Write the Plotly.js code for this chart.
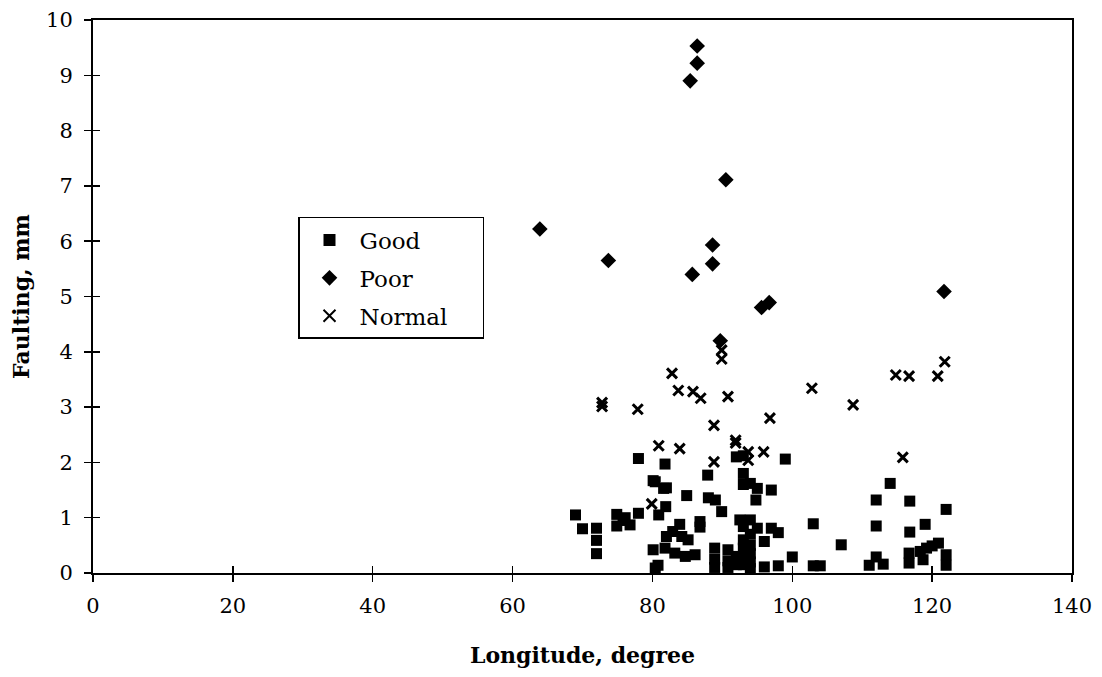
<!DOCTYPE html>
<html>
<head>
<meta charset="utf-8">
<script src="https://cdn.plot.ly/plotly-3.0.1.min.js"></script>
<style>html,body{margin:0;padding:0;background:#fff;}#chart{width:1102px;height:677px;}</style>
</head>
<body>
<div id="chart"></div>
<script>
// Good
const goodLon = [69.0,70.0,72.0,72.0,72.0,74.9,74.9,75.8,76.1,76.8,78.0,78.0,81.8,80.1,80.4,81.6,82.0,81.9,80.9,84.9,87.9,88.0,89.0,89.9,86.8,86.8,83.9,82.9,82.0,84.2,85.1,80.1,81.8,83.2,84.7,86.1,80.8,80.4,88.9,88.9,88.9,90.8,90.8,90.8,92.0,93.0,93.0,93.0,94.0,95.0,94.8,97.0,99.0,92.5,94.0,93.0,95.0,97.0,98.0,96.0,93.0,93.0,93.0,93.0,94.0,94.0,94.0,94.0,94.0,92.0,92.0,103.0,100.0,96.0,98.0,103.0,104.0,107.0,114.0,112.0,112.0,116.8,116.8,119.0,122.0,112.0,111.0,113.0,116.7,116.7,118.3,119.2,120.0,120.9,122.0,122.0,118.7];
const goodFault = [1.05,0.80,0.81,0.59,0.35,1.06,0.85,0.95,1.00,0.87,1.08,2.07,1.97,1.67,1.65,1.53,1.54,1.20,1.05,1.40,1.77,1.36,1.32,1.11,0.93,0.83,0.88,0.75,0.66,0.66,0.60,0.42,0.45,0.36,0.30,0.33,0.14,0.09,0.45,0.25,0.10,0.42,0.22,0.10,2.10,2.12,1.80,1.60,1.62,1.53,1.32,1.50,2.06,0.96,0.96,0.84,0.81,0.81,0.73,0.57,0.60,0.45,0.30,0.15,0.70,0.50,0.35,0.20,0.08,0.30,0.15,0.89,0.29,0.11,0.13,0.13,0.13,0.51,1.62,1.32,0.85,1.30,0.74,0.88,1.15,0.29,0.14,0.16,0.36,0.18,0.39,0.45,0.49,0.54,0.33,0.14,0.24];
// Poor
const poorLon = [63.9,73.7,85.4,86.4,86.4,90.5,88.6,88.6,85.7,95.6,96.7,89.7,121.7];
const poorFault = [6.22,5.65,8.90,9.22,9.53,7.11,5.93,5.59,5.40,4.80,4.89,4.20,5.09];
// Normal
const normLon = [72.8,72.8,77.9,80.9,83.9,82.8,83.7,85.8,86.9,88.8,88.8,89.9,89.9,90.8,91.9,91.9,93.7,93.7,95.9,96.8,102.8,108.7,114.8,116.7,120.8,121.8,115.8,79.9];
const normFault = [3.08,3.01,2.96,2.30,2.25,3.61,3.30,3.28,3.16,2.67,2.01,4.03,3.87,3.19,2.40,2.35,2.19,2.04,2.19,2.80,3.34,3.04,3.58,3.56,3.56,3.82,2.09,1.25];

const seriesNames = ['Good','Poor','Normal'];
const xTicks = [0,20,40,60,80,100,120,140];
const yTicks = [0,1,2,3,4,5,6,7,8,9,10];

const FONT = 'DejaVu Serif, Liberation Serif, serif';
const PAD = '\u00a0\u00a0\u00a0\u00a0'; // right padding inside the legend box

const traces = [
  {x: goodLon, y: goodFault, name: seriesNames[0], mode: 'markers', type: 'scatter', legendgroup:'g',
   marker: {symbol: 'square', size: 11, color: '#000'}},
  {x: poorLon, y: poorFault, name: seriesNames[1], mode: 'markers', type: 'scatter', legendgroup:'p',
   marker: {symbol: 'diamond', size: 12, color: '#000'}},
  {x: normLon, y: normFault, name: seriesNames[2] + PAD, mode: 'markers', type: 'scatter', legendgroup:'n',
   marker: {symbol: 'x-thin-open', size: 10, color: '#000', line: {width: 3, color: '#000'}}},
  // empty helper traces so the overlaid tick-only axes (inner half of the crossing ticks) are drawn
  {x: [null], y: [null], xaxis: 'x2', yaxis: 'y', type: 'scatter', mode: 'markers', showlegend: false, hoverinfo: 'skip'},
  {x: [null], y: [null], xaxis: 'x', yaxis: 'y2', type: 'scatter', mode: 'markers', showlegend: false, hoverinfo: 'skip'}
];

const layout = {
  width: 1102, height: 677,
  margin: {l: 93, r: 30, t: 20, b: 104},
  paper_bgcolor: '#fff', plot_bgcolor: '#fff',
  font: {family: FONT, color: '#000', size: 21},
  showlegend: true,
  legend: {x: 0.2094, y: 0.6438, xanchor: 'left', yanchor: 'top',
    bordercolor: '#000', borderwidth: 1.5, bgcolor: '#fff',
    font: {family: FONT, size: 23, color: '#000'},
    traceorder: 'grouped', tracegroupgap: 5, itemsizing: 'constant', itemwidth: 50},
  xaxis: {range: [0, 140], tickvals: xTicks, ticktext: xTicks.map(String),
    showgrid: false, zeroline: false, showline: true, linecolor: '#000', linewidth: 2, mirror: true,
    ticks: 'outside', ticklen: 7, tickwidth: 1.5, tickcolor: '#000', ticklabelstandoff: 6,
    tickfont: {family: FONT, size: 21},
    title: {text: '<b>Longitude, degree</b>', font: {family: FONT, size: 22}, standoff: 30}},
  yaxis: {range: [0, 10], tickvals: yTicks, ticktext: yTicks.map(String),
    showgrid: false, zeroline: false, showline: true, linecolor: '#000', linewidth: 2, mirror: true,
    ticks: 'outside', ticklen: 7, tickwidth: 1.5, tickcolor: '#000', ticklabelstandoff: 7,
    tickfont: {family: FONT, size: 21},
    title: {text: '<b>Faulting, mm</b>', font: {family: FONT, size: 22}, standoff: 10}},
  xaxis2: {overlaying: 'x', anchor: 'y', range: [0, 140], tickvals: xTicks, showticklabels: false, side: 'bottom',
    ticks: 'inside', ticklen: 7, tickwidth: 1.5, tickcolor: '#000', showgrid: false, zeroline: false, showline: false},
  yaxis2: {overlaying: 'y', anchor: 'x', range: [0, 10], tickvals: yTicks, showticklabels: false, side: 'left',
    ticks: 'inside', ticklen: 7, tickwidth: 1.5, tickcolor: '#000', showgrid: false, zeroline: false, showline: false}
};

Plotly.newPlot('chart', traces, layout, {displayModeBar: false, staticPlot: true});
</script>
</body>
</html>
